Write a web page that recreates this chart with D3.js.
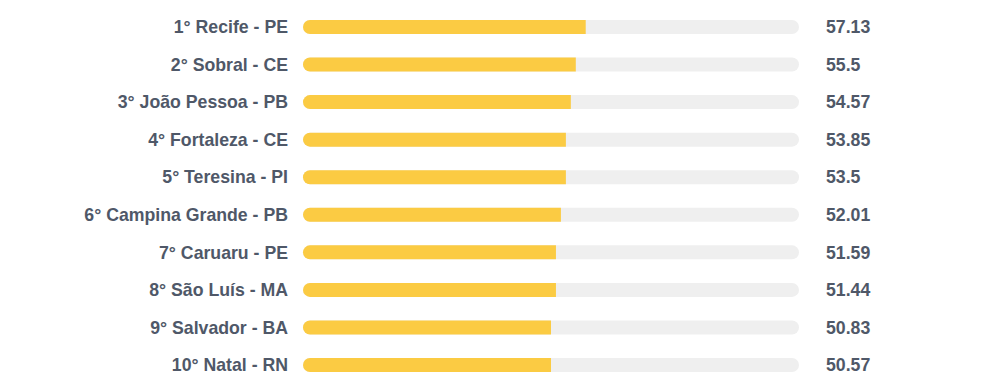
<!DOCTYPE html>
<html>
<head>
<meta charset="utf-8">
<script src="https://cdn.jsdelivr.net/npm/d3@7"></script>
<style>
  body { margin: 0; background: #fff; }
  .label { font-family: "Liberation Sans", Arial, sans-serif; font-weight: bold; font-size: 17.7px; fill: #4f5868; }
</style>
</head>
<body>
<div id="chart"></div>
<script>
// Ranking data
var cities = ["1° Recife - PE", "2° Sobral - CE", "3° João Pessoa - PB", "4° Fortaleza - CE", "5° Teresina - PI",
  "6° Campina Grande - PB", "7° Caruaru - PE", "8° São Luís - MA", "9° Salvador - BA", "10° Natal - RN"];
var scores = [57.13, 55.5, 54.57, 53.85, 53.5, 52.01, 51.59, 51.44, 50.83, 50.57];
var scoreLabels = ["57.13", "55.5", "54.57", "53.85", "53.5", "52.01", "51.59", "51.44", "50.83", "50.57"];

var svgWidth = 1000;
var svgHeight = 389;
var barHeight = 14;

var svg = d3.select("#chart")
  .append("svg")
  .attr("width", svgWidth)
  .attr("height", svgHeight);

var data = cities.map(function (c, i) {
  return { city: c, score: scores[i], label: scoreLabels[i] };
});

var x = d3.scaleLinear()
  .domain([0, 100])
  .range([303, 799]);

var y = d3.scaleBand()
  .domain(cities)
  .range([8.2, 383.8])
  .padding(0);

var rows = svg.selectAll("g.row")
  .data(data)
  .enter()
  .append("g")
  .attr("class", "row")
  .attr("transform", d => `translate(0, ${y(d.city) + y.bandwidth() / 2})`);

// grey track
rows.append("rect")
  .attr("x", x(0))
  .attr("y", -barHeight / 2)
  .attr("width", x(100) - x(0))
  .attr("height", barHeight)
  .attr("rx", barHeight / 2)
  .attr("fill", "#efefef");

// yellow bar, rounded only on the left (the original widths use whole percents)
rows.append("path")
  .attr("fill", "#fbcb43")
  .attr("d", function (d) {
    var r = barHeight / 2;
    var x0 = x(0), x1 = x(Math.floor(d.score));
    return `M${x0 + r},${-r} H${x1} V${r} H${x0 + r} A${r},${r} 0 0 1 ${x0 + r},${-r} Z`;
  });

rows.append("text")
  .attr("class", "label")
  .attr("x", 288)
  .attr("dy", "0.35em")
  .attr("text-anchor", "end")
  .text(d => d.city);

rows.append("text")
  .attr("class", "label")
  .attr("x", 826)
  .attr("dy", "0.35em")
  .text(d => d.label);
</script>
</body>
</html>
